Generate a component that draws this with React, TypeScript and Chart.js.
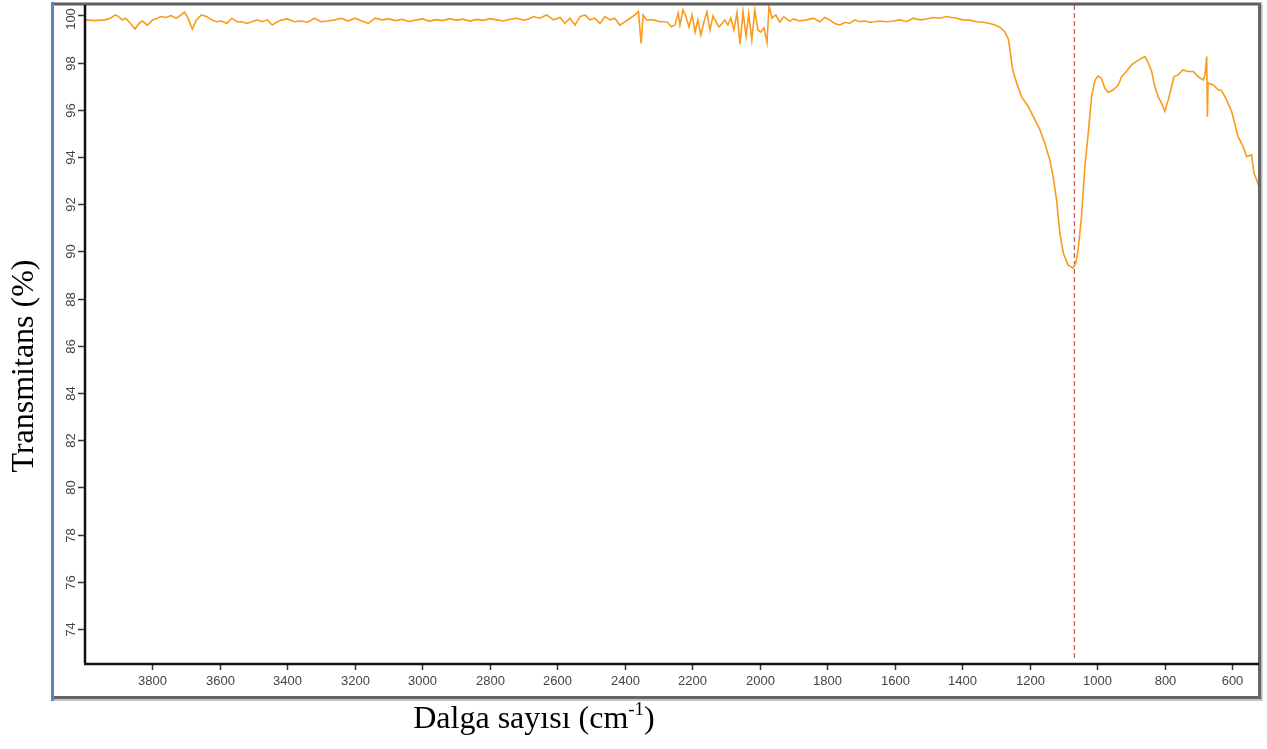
import React, { useEffect, useRef } from 'react';
import { Chart, registerables } from 'chart.js';

Chart.register(...registerables);

// [wavenumber (cm-1), transmittance (%)]
const baseline4000to3100: [number, number][] = [
  [4000, 99.81], [3970, 99.78], [3940, 99.81], [3925, 99.88], [3910, 100.02], [3900, 99.95], [3890, 99.81],
  [3880, 99.88], [3865, 99.66], [3852, 99.42], [3840, 99.66], [3830, 99.76], [3815, 99.59], [3800, 99.81],
  [3785, 99.88], [3775, 99.95], [3760, 99.91], [3745, 99.99], [3730, 99.88], [3715, 100.02], [3705, 100.14],
  [3695, 99.88], [3682, 99.42], [3670, 99.81], [3655, 100.02], [3640, 99.95], [3625, 99.81], [3610, 99.73],
  [3595, 99.76], [3580, 99.66], [3565, 99.88], [3550, 99.73], [3535, 99.73], [3520, 99.66], [3505, 99.73],
  [3490, 99.81], [3475, 99.73], [3460, 99.81], [3445, 99.59], [3430, 99.73], [3415, 99.81], [3400, 99.85],
  [3380, 99.73], [3360, 99.76], [3340, 99.71], [3320, 99.88], [3300, 99.73], [3280, 99.76], [3260, 99.81],
  [3240, 99.88], [3220, 99.76], [3200, 99.88], [3180, 99.76], [3160, 99.66], [3140, 99.88], [3120, 99.81],
  [3100, 99.85],
];

const baseline3100to2240: [number, number][] = [
  [3080, 99.78], [3060, 99.83], [3040, 99.74], [3020, 99.8], [3000, 99.85], [2980, 99.76], [2960, 99.82],
  [2940, 99.78], [2920, 99.86], [2900, 99.8], [2880, 99.84], [2860, 99.76], [2840, 99.83], [2820, 99.79],
  [2800, 99.86], [2780, 99.81], [2760, 99.76], [2740, 99.84], [2720, 99.88], [2700, 99.8], [2685, 99.85],
  [2671, 99.95], [2652, 99.88], [2632, 100.02], [2612, 99.81], [2592, 99.91], [2578, 99.66], [2563, 99.88],
  [2548, 99.59], [2533, 99.95], [2518, 100.02], [2504, 99.81], [2489, 99.88], [2474, 99.66], [2459, 99.95],
  [2444, 99.81], [2430, 99.88], [2415, 99.59], [2400, 99.73], [2385, 99.88], [2370, 100.02], [2360, 100.16],
  [2352, 98.81], [2346, 100.02], [2336, 99.81], [2316, 99.81], [2296, 99.73], [2276, 99.73], [2262, 99.52],
  [2252, 99.59], [2242, 100.09],
];

const noisy2240to1900: [number, number][] = [
  [2237, 99.59], [2228, 100.23], [2219, 99.94], [2210, 99.51], [2201, 100.02], [2192, 99.29], [2184, 99.81],
  [2175, 99.17], [2166, 99.72], [2157, 100.15], [2148, 99.38], [2139, 99.98], [2130, 99.72], [2121, 99.51],
  [2113, 99.64], [2104, 99.81], [2095, 99.59], [2086, 99.89], [2077, 99.38], [2068, 100.11], [2059, 98.78],
  [2050, 100.15], [2041, 99.12], [2033, 100.06], [2024, 98.95], [2015, 100.23], [2006, 99.38], [1997, 99.29],
  [1988, 99.47], [1979, 98.85], [1973, 100.4], [1964, 99.89], [1953, 100.02], [1941, 99.72], [1929, 99.94],
  [1911, 99.75],
];

const baseline1900to1260: [number, number][] = [
  [1901, 99.85], [1882, 99.76], [1862, 99.81], [1842, 99.88], [1822, 99.73], [1808, 99.91], [1793, 99.81],
  [1778, 99.66], [1763, 99.59], [1748, 99.71], [1734, 99.66], [1719, 99.81], [1704, 99.73], [1689, 99.76],
  [1674, 99.71], [1659, 99.73], [1645, 99.76], [1625, 99.73], [1605, 99.76], [1585, 99.81], [1566, 99.73],
  [1546, 99.88], [1526, 99.81], [1506, 99.85], [1487, 99.91], [1467, 99.88], [1447, 99.95], [1432, 99.91],
  [1417, 99.88], [1398, 99.81], [1378, 99.8], [1358, 99.73], [1338, 99.71], [1319, 99.66], [1304, 99.59],
  [1289, 99.5], [1274, 99.3], [1264, 99.0], [1259, 98.55],
];

const fingerprint1260to521: [number, number][] = [
  [1251, 97.69], [1239, 97.13], [1225, 96.56], [1205, 96.14], [1185, 95.57], [1170, 95.15], [1156, 94.59],
  [1141, 93.88], [1131, 93.17], [1121, 92.18], [1111, 90.77], [1101, 89.93], [1087, 89.43], [1072, 89.29],
  [1064, 89.5], [1057, 90.07], [1047, 91.48], [1037, 93.6], [1027, 95.01], [1017, 96.56], [1007, 97.26],
  [998, 97.43], [988, 97.34], [978, 96.92], [968, 96.73], [953, 96.85], [938, 97.06], [928, 97.4],
  [914, 97.62], [899, 97.9], [884, 98.05], [869, 98.19], [859, 98.26], [849, 97.98], [839, 97.62],
  [830, 96.99], [820, 96.56], [810, 96.28], [800, 95.93], [790, 96.42], [780, 96.99], [773, 97.4],
  [761, 97.48], [746, 97.69], [731, 97.62], [716, 97.62], [701, 97.4], [686, 97.26], [681, 97.48],
  [676, 98.26], [674, 95.71], [672, 97.13], [657, 97.06], [642, 96.85], [632, 96.82], [617, 96.42],
  [602, 95.93], [593, 95.43], [583, 94.86], [568, 94.44], [558, 94.02], [543, 94.09], [536, 93.32],
  [528, 93.03], [521, 92.74],
];

const markerWavenumber = 1068;
const markerSpan = [100.44, 72.7];

const xTickValues = [3800, 3600, 3400, 3200, 3000, 2800, 2600, 2400, 2200, 2000, 1800, 1600, 1400, 1200, 1000, 800, 600];
const yTickValues = [74, 76, 78, 80, 82, 84, 86, 88, 90, 92, 94, 96, 98, 100];
const xRange = [521, 4000];
const yRange = [72.52, 100.44];

const xTitleMain = 'Dalga sayısı (cm';
const xTitleSup = '-1';
const xTitleEnd = ')';
const yTitle = 'Transmitans (%)';

const SANS = '"Liberation Sans", Arial, sans-serif';
const SERIF = '"Liberation Serif", "Times New Roman", serif';

const decorPlugin = {
  id: 'decor',
  beforeDraw(chart: any) {
    const { ctx, width, height } = chart;
    ctx.save();
    ctx.fillStyle = '#ffffff';
    ctx.fillRect(0, 0, width, height);
    ctx.restore();
  },
  afterDraw(chart: any) {
    const { ctx, chartArea: a, scales } = chart;
    const xs = scales.x;
    const ys = scales.y;
    ctx.save();

    // outer frame
    ctx.fillStyle = '#b0b0b0';
    ctx.fillRect(52, 2, a.right + 3 - 52, 1);
    ctx.fillStyle = '#5e5e5e';
    ctx.fillRect(52, 3, a.right + 2 - 52, 2.5);
    ctx.fillStyle = '#666666';
    ctx.fillRect(a.right - 1, 3, 3, 696);
    ctx.fillStyle = '#b8b8b8';
    ctx.fillRect(a.right + 2, 4, 1.5, 697);
    ctx.fillStyle = '#666666';
    ctx.fillRect(52, 696, a.right + 2 - 52, 3);
    ctx.fillStyle = '#c6c6c6';
    ctx.fillRect(54, 699, a.right + 2 - 54, 2);
    ctx.fillStyle = '#5b84c4';
    ctx.fillRect(51, 2, 3, 699);

    // axis lines
    ctx.strokeStyle = '#111111';
    ctx.lineWidth = 2.5;
    ctx.beginPath();
    ctx.moveTo(a.left, a.top);
    ctx.lineTo(a.left, a.bottom - 1);
    ctx.stroke();
    ctx.beginPath();
    ctx.moveTo(a.left - 1, a.bottom);
    ctx.lineTo(a.right, a.bottom);
    ctx.stroke();

    // x ticks + labels
    ctx.strokeStyle = '#333333';
    ctx.lineWidth = 1.5;
    ctx.fillStyle = '#444444';
    ctx.font = `13px ${SANS}`;
    ctx.textAlign = 'center';
    ctx.textBaseline = 'middle';
    for (const v of xTickValues) {
      const px = Math.round(xs.getPixelForValue(v)) + 0.5;
      ctx.beginPath();
      ctx.moveTo(px, a.bottom + 1);
      ctx.lineTo(px, a.bottom + 6);
      ctx.stroke();
      ctx.fillText(String(v), px, a.bottom + 17);
    }

    // y ticks + rotated labels
    for (const v of yTickValues) {
      const py = Math.round(ys.getPixelForValue(v)) + 0.5;
      ctx.beginPath();
      ctx.moveTo(a.left - 7, py);
      ctx.lineTo(a.left - 1, py);
      ctx.stroke();
      ctx.save();
      ctx.translate(a.left - 14, Math.max(py, 19));
      ctx.rotate(-Math.PI / 2);
      ctx.fillText(String(v), 0, 0);
      ctx.restore();
    }

    // y title
    ctx.fillStyle = '#000000';
    ctx.save();
    ctx.translate(25, 366);
    ctx.rotate(-Math.PI / 2);
    ctx.font = `32px ${SERIF}`;
    ctx.textAlign = 'center';
    ctx.textBaseline = 'middle';
    ctx.fillText(yTitle, 0, 0);
    ctx.restore();

    // x title with superscript
    ctx.textAlign = 'left';
    ctx.textBaseline = 'alphabetic';
    ctx.font = `32px ${SERIF}`;
    const w1 = ctx.measureText(xTitleMain).width;
    const w3 = ctx.measureText(xTitleEnd).width;
    ctx.font = `19px ${SERIF}`;
    const w2 = ctx.measureText(xTitleSup).width;
    const total = w1 + w2 + w3;
    const cx = 534;
    const base = 728;
    let sx = cx - total / 2;
    ctx.font = `32px ${SERIF}`;
    ctx.fillText(xTitleMain, sx, base);
    sx += w1;
    ctx.font = `19px ${SERIF}`;
    ctx.fillText(xTitleSup, sx, base - 13);
    sx += w2;
    ctx.font = `32px ${SERIF}`;
    ctx.fillText(xTitleEnd, sx, base);

    ctx.restore();
  },
};

export default function App() {
  const canvasRef = useRef<HTMLCanvasElement | null>(null);

  useEffect(() => {
    document.body.style.margin = '0';
    const canvas = canvasRef.current;
    if (!canvas) return;
    const spectrum = [
      ...baseline4000to3100,
      ...baseline3100to2240,
      ...noisy2240to1900,
      ...baseline1900to1260,
      ...fingerprint1260to521,
    ].map(([w, t]) => ({ x: w, y: t }));

    const chart = new Chart(canvas, {
      type: 'line',
      data: {
        datasets: [
          {
            label: 'Spectrum',
            data: spectrum,
            borderColor: '#fb9a1b',
            borderWidth: 1.6,
            pointRadius: 0,
            tension: 0,
            fill: false,
          },
          {
            label: 'Marker',
            data: markerSpan.map((t) => ({ x: markerWavenumber, y: t })),
            borderColor: '#d35a5a',
            borderWidth: 1.3,
            borderDash: [5, 3],
            pointRadius: 0,
            fill: false,
          },
        ],
      },
      options: {
        responsive: false,
        devicePixelRatio: 1,
        animation: false,
        events: [],
        layout: { padding: { left: 85, top: 5, right: 8, bottom: 85 } },
        plugins: {
          legend: { display: false },
          tooltip: { enabled: false },
          title: { display: false },
        },
        scales: {
          x: { type: 'linear', reverse: true, min: xRange[0], max: xRange[1], display: false },
          y: { type: 'linear', min: yRange[0], max: yRange[1], display: false },
        },
      },
      plugins: [decorPlugin],
    });
    return () => chart.destroy();
  }, []);

  return (
    <div style={{ position: 'absolute', left: 0, top: 0, width: 1267, height: 749 }}>
      <canvas ref={canvasRef} width={1267} height={749} style={{ display: 'block' }} />
    </div>
  );
}
